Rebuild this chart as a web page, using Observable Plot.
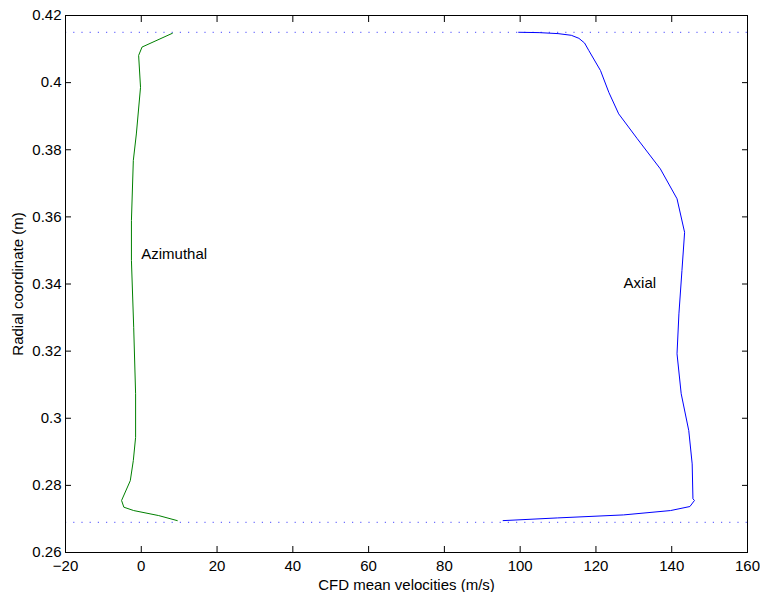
<!DOCTYPE html>
<html><head><meta charset="utf-8">
<script src="https://cdn.jsdelivr.net/npm/d3@7"></script>
<script src="https://cdn.jsdelivr.net/npm/@observablehq/plot@0.6"></script>
<style>
body{margin:0;background:#fff;}
#chart svg{display:block;}
</style>
</head><body><div id="chart"></div>
<script>
const xTicks = [-20, 0, 20, 40, 60, 80, 100, 120, 140, 160];
const yTicks = [0.26, 0.28, 0.3, 0.32, 0.34, 0.36, 0.38, 0.4, 0.42];

const azimuthalV = [8.2, 0.2, -0.7, -0.2, -1.3, -2.1, -2.6, -2.6, -2.0, -1.5, -1.5, -2.1, -2.9, -5.2, -4.6, -2.0, 4.6, 9.5];
const azimuthalR = [0.4147, 0.4106, 0.4081, 0.3986, 0.3847, 0.3768, 0.3589, 0.347, 0.3271, 0.3073, 0.2943, 0.2874, 0.2814, 0.2755, 0.2735, 0.2725, 0.271, 0.2695];

const axialV = [99.6, 105.0, 110.0, 113.5, 115.5, 117.0, 118.1, 121.2, 123.4, 126.0, 130.9, 137.0, 141.4, 143.4, 142.7, 141.9, 141.4, 142.5, 144.5, 145.4, 145.6, 146.0, 144.8, 139.7, 127.3, 109.8, 95.5];
const axialR = [0.415, 0.4149, 0.4146, 0.4141, 0.4132, 0.4118, 0.4096, 0.4036, 0.3971, 0.3907, 0.3833, 0.3743, 0.3654, 0.3554, 0.344, 0.3311, 0.3192, 0.3073, 0.2963, 0.2864, 0.276, 0.2755, 0.2737, 0.2725, 0.2712, 0.2703, 0.2695];

const boundaryR = [0.415, 0.269];

const seriesNames = ["Azimuthal", "Axial"];
const labelV = [0.0, 127.3];
const labelR = [0.349, 0.3403];

const azimuthal = azimuthalV.map((v, i) => ({v, r: azimuthalR[i]}));
const axial = axialV.map((v, i) => ({v, r: axialR[i]}));
const labels = seriesNames.map((name, i) => ({name, v: labelV[i], r: labelR[i]}));

const chart = Plot.plot({
  width: 760,
  height: 592,
  marginLeft: 65,
  marginRight: 13,
  marginTop: 15,
  marginBottom: 40,
  style: {fontFamily: "'Liberation Sans', Arial, Helvetica, sans-serif", fontSize: "15px", color: "black", background: "white"},
  x: {domain: [-20, 160]},
  y: {domain: [0.26, 0.42]},
  marks: [
    Plot.ruleY(boundaryR, {stroke: "#6f6fff", strokeWidth: 1.2, strokeDasharray: "1.2,7"}),
    Plot.line(azimuthal, {x: "v", y: "r", stroke: "#008000", strokeWidth: 1}),
    Plot.line(axial, {x: "v", y: "r", stroke: "#0000ff", strokeWidth: 1}),
    Plot.text(labels, {x: "v", y: "r", text: "name", textAnchor: "start", fill: "black", fontSize: 15}),
    Plot.frame({stroke: "black", strokeWidth: 1}),
    Plot.axisX({anchor: "bottom", ticks: xTicks, tickSize: 0, tickPadding: 8, label: "CFD mean velocities (m/s)", labelAnchor: "center", labelArrow: "none", labelOffset: 37}),
    Plot.axisX({anchor: "bottom", ticks: xTicks, tickSize: 6, dy: -6, fill: "none", label: null}),
    Plot.axisX({anchor: "top", ticks: xTicks, tickSize: 6, dy: 6, fill: "none", label: null}),
    Plot.axisY({anchor: "left", ticks: yTicks, tickSize: 0, tickPadding: 4, tickFormat: d => String(d), label: "Radial coordinate (m)", labelAnchor: "center", labelArrow: "none", labelOffset: 53}),
    Plot.axisY({anchor: "left", ticks: yTicks, tickSize: 6, dx: 6, fill: "none", label: null}),
    Plot.axisY({anchor: "right", ticks: yTicks, tickSize: 6, dx: -6, fill: "none", label: null})
  ]
});
document.getElementById("chart").appendChild(chart);
</script>
</body></html>
